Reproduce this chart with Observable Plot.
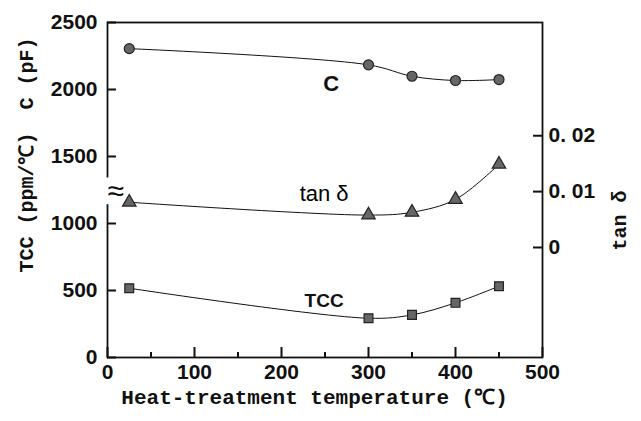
<!DOCTYPE html>
<html>
<head>
<meta charset="utf-8">
<script src="https://cdn.jsdelivr.net/npm/d3@7"></script>
<script src="https://cdn.jsdelivr.net/npm/@observablehq/plot@0.6"></script>
<style>
  html, body { margin: 0; padding: 0; background: white; }
</style>
</head>
<body>
<div id="chart"></div>
<script>
// Data
const temps = [25, 300, 350, 400, 450];           // Heat-treatment temperature (°C)
const cValues = [2305, 2184, 2099, 2067, 2074];    // C (pF)
const tanValues = [0.0081, 0.0058, 0.0063, 0.0086, 0.0149]; // tan δ
const tccValues = [517, 293, 318, 408, 532];       // TCC (ppm/°C)

const xTicks = [0, 100, 200, 300, 400, 500];
const xMinorTicks = [50, 150, 250, 350, 450];
const yTicks = [0, 500, 1000, 1500, 2000, 2500];
const tanTicks = [0, 0.01, 0.02];
const tanTickLabels = ["0", "0. 01", "0. 02"];

// axis break on the left axis (left-axis units)
const breakFrom = 1140, breakTo = 1340, breakMark = 1238;

// right axis (tan δ) mapped onto left-axis units
const tanZero = 821, tanPerUnit = 41700;
const toLeft = t => tanZero + t * tanPerUnit;

const rows = (vals, f = v => v) => temps.map((x, i) => ({x, y: f(vals[i])}));
const cData = rows(cValues);
const tanData = rows(tanValues, toLeft);
const tccData = rows(tccValues);

const W = 641, H = 421, mL = 107, mR = 99, mT = 22, mB = 64;
const frameW = W - mL - mR, frameH = H - mT - mB;

const ink = "#111";
const mono = "'Liberation Mono', 'DejaVu Sans Mono', monospace";

const chart = Plot.plot({
  width: W,
  height: H,
  marginLeft: mL,
  marginRight: mR,
  marginTop: mT,
  marginBottom: mB,
  x: {domain: [0, 500]},
  y: {domain: [0, 2500]},
  style: {fontFamily: "'Liberation Sans', Arial, sans-serif", fontSize: "21px", color: ink, background: "white"},
  marks: [
    Plot.frame({stroke: ink, strokeWidth: 1.8}),
    // inward tick marks
    Plot.ruleX(xTicks, {x: d => d, insetTop: frameH - 10, stroke: ink, strokeWidth: 2}),
    Plot.ruleX(xMinorTicks, {x: d => d, insetTop: frameH - 5, stroke: ink, strokeWidth: 2}),
    Plot.ruleY(yTicks, {y: d => d, insetRight: frameW - 9, stroke: ink, strokeWidth: 2}),
    Plot.ruleY(tanTicks, {y: d => toLeft(d), insetLeft: frameW - 9, stroke: ink, strokeWidth: 2}),
    // tick labels
    Plot.axisX({ticks: xTicks, tickSize: 0, tickPadding: 7, tickFormat: d => String(d), label: null, fontSize: 21, fontWeight: "bold"}),
    Plot.axisY({ticks: yTicks, tickSize: 0, tickPadding: 10, tickFormat: d => String(d), label: null, fontSize: 21, fontWeight: "bold"}),
    Plot.axisY({
      anchor: "right",
      ticks: tanTicks.map(toLeft),
      tickFormat: v => tanTickLabels[tanTicks.findIndex(t => Math.abs(toLeft(t) - v) < 1e-6)],
      tickSize: 0, tickPadding: 6, label: null, fontSize: 21, fontWeight: "bold"
    }),
    // axis break: gap in the left axis and a wavy mark
    Plot.ruleX([0], {x: d => d, y1: breakFrom, y2: breakTo, stroke: "white", strokeWidth: 5}),
    Plot.text([breakMark], {frameAnchor: "left", y: d => d, text: () => "≈", fontSize: 30, fill: ink}),
    // curves
    Plot.line(cData, {x: "x", y: "y", curve: "catmull-rom", stroke: ink, strokeWidth: 1}),
    Plot.line(tanData, {x: "x", y: "y", curve: "catmull-rom", stroke: ink, strokeWidth: 1}),
    Plot.line(tccData, {x: "x", y: "y", curve: "catmull-rom", stroke: ink, strokeWidth: 1}),
    // markers
    Plot.dot(cData, {x: "x", y: "y", symbol: "circle", r: 5, fill: "#666", stroke: "#222", strokeWidth: 1.2}),
    Plot.dot(tanData, {x: "x", y: "y", symbol: "triangle", r: 5, fill: "#666", stroke: "#222", strokeWidth: 1.2}),
    Plot.dot(tccData, {x: "x", y: "y", symbol: "square", r: 5, fill: "#666", stroke: "#222", strokeWidth: 1.2}),
    // series labels
    Plot.text([{x: 257, y: 2044, t: "C"}], {x: "x", y: "y", text: "t", fontSize: 22, fontWeight: "bold", fill: ink}),
    Plot.text([{x: 249, y: 1223, t: "tan δ"}], {x: "x", y: "y", text: "t", fontSize: 22, fill: "#000"}),
    Plot.text([{x: 249, y: 425, t: "TCC"}], {x: "x", y: "y", text: "t", fontSize: 19, fontWeight: "bold", fill: ink}),
    // axis titles
    Plot.text([{y: 1850, t: "C (pF)"}], {frameAnchor: "left", y: "y", text: "t", rotate: -90, dx: -81, fontSize: 20, fontFamily: mono, fontWeight: "bold", fill: ink}),
    Plot.text([{y: 634, t: "TCC (ppm/℃)"}], {frameAnchor: "left", y: "y", text: "t", rotate: -90, dx: -81, fontSize: 20, fontFamily: mono, fontWeight: "bold", fill: ink}),
    Plot.text([{y: 1246, t: "tan δ"}], {frameAnchor: "right", y: "y", text: "t", rotate: -90, dx: 77, fontSize: 20, fontFamily: mono, fontWeight: "bold", fill: ink}),
    Plot.text([{x: 238, t: "Heat-treatment temperature (℃)"}], {frameAnchor: "bottom", x: "x", text: "t", dy: 46, fontSize: 21, fontFamily: mono, fontWeight: "bold", fill: ink})
  ]
});
document.getElementById("chart").appendChild(chart);
</script>
</body>
</html>
